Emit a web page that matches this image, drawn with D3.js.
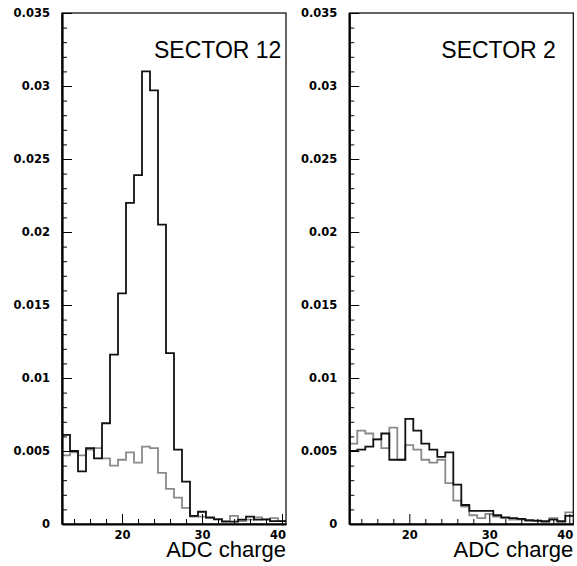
<!DOCTYPE html>
<html>
<head>
<meta charset="utf-8">
<script src="https://cdn.jsdelivr.net/npm/d3@7"></script>
<style>
  html, body { margin: 0; padding: 0; background: #fff; }
  svg { display: block; }
</style>
</head>
<body>
<svg id="chart" width="577" height="566"></svg>
<script>
// ---- data ----
const binCenters = [13,14,15,16,17,18,19,20,21,22,23,24,25,26,27,28,29,30,31,32,33,34,35,36,37,38,39,40];

const sector12Black = [0.0061,0.0050,0.0036,0.0052,0.0045,0.0069,0.0116,0.0158,0.0220,0.0239,0.0310,0.0297,0.0205,0.0117,
  0.0051,0.0029,0.00055,0.00084,0.00046,0.00032,0.00016,0.00016,0.0003,0.0005,0.0003,0.00032,0.0002,0.0002];
const sector12Gray = [0.0047,0.0049,0.0047,0.0051,0.0052,0.0045,0.0040,0.0044,0.0049,0.0042,0.0053,0.0052,0.0035,0.0024,
  0.0018,0.0011,0.0005,0.0005,0.0004,0.00035,0.0002,0.00055,0.0002,0.0003,0.00045,0.0003,0.0004,0.0002];

const sector2Black = [0.0050,0.0051,0.0053,0.0058,0.0062,0.0044,0.0044,0.0072,0.0064,0.0055,0.0051,0.0046,0.0049,0.0027,
  0.0013,0.0009,0.0009,0.0009,0.0006,0.00046,0.0004,0.00035,0.00027,0.00023,0.0002,0.0003,0.0002,0.00055];
const sector2Gray = [0.0055,0.0064,0.0062,0.0058,0.0052,0.0066,0.0044,0.0054,0.0051,0.0044,0.0042,0.0044,0.0028,0.0016,
  0.0012,0.0006,0.0004,0.0007,0.0005,0.0004,0.0003,0.0003,0.0002,0.0002,0.0001,0.0004,0.0001,0.0008];

const panelTitles = ["SECTOR 12", "SECTOR 2"];
const xAxisTitle = "ADC charge";
const xDomain = [12.5, 40.5];
const yDomain = [0, 0.035];
const yMajorTicks = [0, 0.005, 0.01, 0.015, 0.02, 0.025, 0.03, 0.035];
const yTickLabels = ["0", "0.005", "0.01", "0.015", "0.02", "0.025", "0.03", "0.035"];
const yMinorTicks = [0.001,0.002,0.003,0.004,0.006,0.007,0.008,0.009,0.011,0.012,0.013,0.014,0.016,0.017,0.018,0.019,
  0.021,0.022,0.023,0.024,0.026,0.027,0.028,0.029,0.031,0.032,0.033,0.034];
const xMajorTicks = [20, 30, 40];
const xTickLabels = ["20", "30", "40"];
const xMinorTicks = [14, 16, 18, 22, 24, 26, 28, 32, 34, 36, 38];

// ---- layout ----
const svg = d3.select("#chart");
const plotTop = 13, plotBottom = 524, plotW = 224;
const panels = [
  { x0: 62,    title: panelTitles[0], black: sector12Black, gray: sector12Gray },
  { x0: 349.3, title: panelTitles[1], black: sector2Black,  gray: sector2Gray }
];
const tickFont = "'DejaVu Sans', sans-serif";
const titleFont = "'Liberation Sans', Arial, Helvetica, sans-serif";

panels.forEach(p => {
  const x = d3.scaleLinear().domain(xDomain).range([p.x0, p.x0 + plotW]);
  const y = d3.scaleLinear().domain(yDomain).range([plotBottom, plotTop]);
  const g = svg.append("g");

  // histograms (gray below, black above)
  const stepLine = d3.line().curve(d3.curveStepAfter).x(d => x(d[0])).y(d => y(d[1]));
  const toPts = vals => {
    const pts = vals.map((v, i) => [binCenters[i] - 0.5, v]);
    pts.push([binCenters[binCenters.length - 1] + 0.5, vals[vals.length - 1]]);
    return pts;
  };
  g.append("path").attr("d", stepLine(toPts(p.gray)))
    .attr("fill", "none").attr("stroke", "#8a8a8a").attr("stroke-width", 1.8);
  g.append("path").attr("d", stepLine(toPts(p.black)))
    .attr("fill", "none").attr("stroke", "#111").attr("stroke-width", 1.8);

  // frame
  g.append("rect").attr("x", p.x0).attr("y", plotTop).attr("width", plotW).attr("height", plotBottom - plotTop)
    .attr("fill", "none").attr("stroke", "#000").attr("stroke-width", 1.2);

  // y minor ticks
  const yMinor = g.append("g").attr("transform", `translate(${p.x0},0)`)
    .call(d3.axisLeft(y).tickValues(yMinorTicks).tickSizeInner(-5).tickSizeOuter(0).tickFormat(""));
  yMinor.select(".domain").remove();
  // y major ticks + labels
  const yAx = g.append("g").attr("transform", `translate(${p.x0},0)`)
    .call(d3.axisLeft(y).tickValues(yMajorTicks).tickSizeInner(-10).tickSizeOuter(0).tickPadding(12)
      .tickFormat((d, i) => yTickLabels[i]));
  yAx.select(".domain").attr("stroke-width", 2.2);
  yAx.selectAll("text").attr("font-family", tickFont).attr("font-weight", "bold")
    .attr("font-size", 11.5).attr("fill", "#000");

  // x minor ticks
  const xMinor = g.append("g").attr("transform", `translate(0,${plotBottom})`)
    .call(d3.axisBottom(x).tickValues(xMinorTicks).tickSizeInner(-5).tickSizeOuter(0).tickFormat(""));
  xMinor.select(".domain").remove();
  // x major ticks + labels
  const xAx = g.append("g").attr("transform", `translate(0,${plotBottom})`)
    .call(d3.axisBottom(x).tickValues(xMajorTicks).tickSizeInner(-10).tickSizeOuter(0).tickPadding(7)
      .tickFormat((d, i) => xTickLabels[i]));
  xAx.select(".domain").attr("stroke-width", 2.2);
  xAx.selectAll("text").attr("font-family", tickFont).attr("font-weight", "bold")
    .attr("font-size", 11.5).attr("fill", "#000");
  xAx.selectAll(".tick").filter(d => d === 40).select("text")
    .attr("text-anchor", "end").attr("x", 3.5);

  // panel title
  g.append("text").attr("x", p.x0 + 92).attr("y", 58.3)
    .attr("font-family", titleFont).attr("font-size", 23).attr("fill", "#000")
    .text(p.title);

  // x axis title
  g.append("text").attr("x", p.x0 + plotW).attr("y", 556.5)
    .attr("text-anchor", "end")
    .attr("font-family", titleFont).attr("font-size", 22).attr("fill", "#000")
    .text(xAxisTitle);
});
</script>
</body>
</html>
